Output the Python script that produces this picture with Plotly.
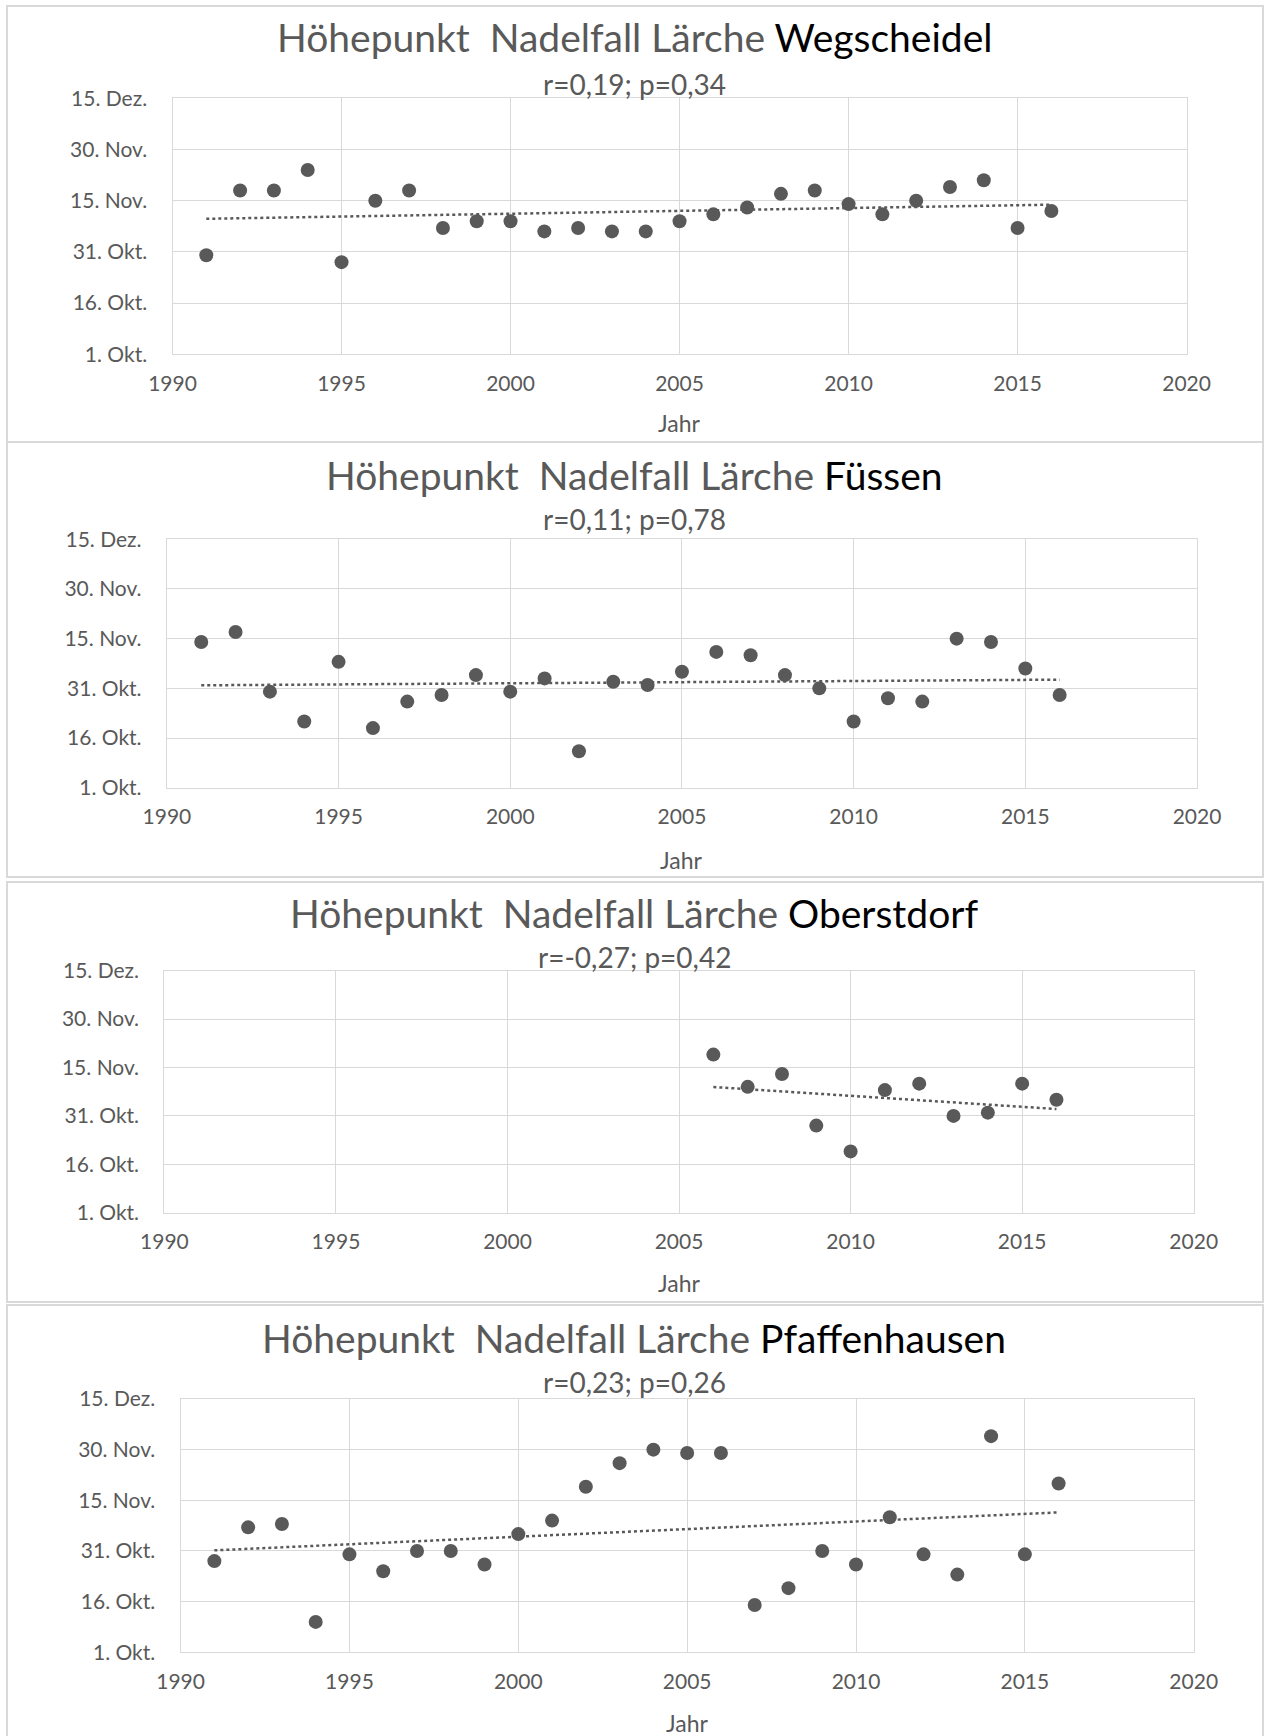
import numpy as np
import plotly.graph_objects as go

# Tage nach dem 1. Oktober (0 = 1. Okt., 15 = 16. Okt., 30 = 31. Okt., ...)
years_long = list(range(1991, 2017))
wegscheidel = [29, 48, 48, 54, 27, 45, 48, 37, 39, 39, 36, 37, 36,
               36, 39, 41, 43, 47, 48, 44, 41, 45, 49, 51, 37, 42]
fuessen = [44, 47, 29, 20, 38, 18, 26, 28, 34, 29, 33, 11, 32,
           31, 35, 41, 40, 34, 30, 20, 27, 26, 45, 44, 36, 28]
years_oberstdorf = list(range(2006, 2017))
oberstdorf = [49, 39, 43, 27, 19, 38, 40, 30, 31, 40, 35]
pfaffenhausen = [27, 37, 38, 9, 29, 24, 30, 30, 26, 35, 39, 49, 56,
                 60, 59, 59, 14, 19, 30, 26, 40, 29, 23, 64, 29, 50]

stations = ["Wegscheidel", "Füssen", "Oberstdorf", "Pfaffenhausen"]
stats = ["r=0,19; p=0,34", "r=0,11; p=0,78", "r=-0,27; p=0,42", "r=0,23; p=0,26"]
series = [(years_long, wegscheidel), (years_long, fuessen),
          (years_oberstdorf, oberstdorf), (years_long, pfaffenhausen)]

y_tickvals = [0, 15, 30, 45, 60, 75]
y_ticktext = ["1. Okt.", "16. Okt.", "31. Okt.", "15. Nov.", "30. Nov.", "15. Dez."]
x_tickvals = [1990, 1995, 2000, 2005, 2010, 2015, 2020]

W, H = 1264, 1736
# plot areas in pixels: left, right, top, bottom
plot_boxes = [(172.5, 1186.6, 98.3, 354.3),
              (166.9, 1197.0, 539.3, 787.7),
              (164.4, 1193.7, 970.7, 1212.7),
              (180.6, 1193.7, 1399.0, 1652.3)]
title_y = [36.7, 475, 913, 1338]
sub_y = [84, 519, 957, 1382]
jahr_y = [423, 860, 1283, 1723]
panel_frames = [(6, 442), (442, 877), (882, 1302), (1305, 1760)]

FONT = "Lato"
GRAY = "#595959"
GRID = "#d9d9d9"

fig = go.Figure()
annotations = []
shapes = []

for i, ((yrs, vals), name) in enumerate(zip(series, stations)):
    n = "" if i == 0 else str(i + 1)
    xa, ya = "x" + n, "y" + n
    left, right, top, bottom = plot_boxes[i]

    fig.add_trace(go.Scatter(x=yrs, y=vals, mode="markers", xaxis=xa, yaxis=ya,
                             marker=dict(size=14, color=GRAY), showlegend=False))
    k, d = np.polyfit(yrs, vals, 1)
    ends = [yrs[0], yrs[-1]]
    fig.add_trace(go.Scatter(x=ends, y=[k * e + d for e in ends], mode="lines",
                             xaxis=xa, yaxis=ya, showlegend=False,
                             line=dict(color=GRAY, width=2.5, dash="dot")))

    axis_common = dict(showgrid=True, gridcolor=GRID, gridwidth=1.3, zeroline=False,
                       showline=True, linecolor=GRID, linewidth=1.3, mirror=True,
                       tickfont=dict(family=FONT, size=21, color=GRAY),
                       ticks="", fixedrange=True, automargin=False)
    fig.update_layout({
        "xaxis" + n: dict(axis_common, domain=[left / W, right / W], range=[1990, 2020],
                          tickvals=x_tickvals, anchor=ya, ticklabelstandoff=10),
        "yaxis" + n: dict(axis_common, domain=[1 - bottom / H, 1 - top / H], range=[0, 75],
                          tickvals=y_tickvals, ticktext=y_ticktext, anchor=xa,
                          ticklabelstandoff=20),
    })

    annotations.append(dict(
        x=634 / W, y=1 - title_y[i] / H, xref="paper", yref="paper", showarrow=False,
        text="Höhepunkt  Nadelfall Lärche <span style='color:#000000'>" + name + "</span>",
        font=dict(family=FONT, size=39, color=GRAY), xanchor="center", yanchor="middle"))
    annotations.append(dict(
        x=634 / W, y=1 - sub_y[i] / H, xref="paper", yref="paper", showarrow=False,
        text=stats[i], font=dict(family=FONT, size=28, color=GRAY),
        xanchor="center", yanchor="middle"))
    annotations.append(dict(
        x=(left + right) / 2 / W, y=1 - jahr_y[i] / H, xref="paper", yref="paper",
        showarrow=False, text="Jahr", font=dict(family=FONT, size=23, color=GRAY),
        xanchor="center", yanchor="middle"))

    y0, y1 = panel_frames[i]
    shapes.append(dict(type="rect", xref="paper", yref="paper",
                       x0=7 / W, x1=1263 / W, y0=1 - y1 / H, y1=1 - y0 / H,
                       line=dict(color=GRID, width=2), fillcolor="rgba(0,0,0,0)"))

fig.update_layout(width=W, height=H, margin=dict(l=0, r=0, t=0, b=0, pad=0),
                  template="none",
                  paper_bgcolor="white", plot_bgcolor="white",
                  annotations=annotations, shapes=shapes,
                  font=dict(family=FONT, color=GRAY))

# the page body has a default 8px margin; drop it so the figure sits at 0,0
fig.write_html("out.html", config={"displayModeBar": False},
               post_script="document.body.style.margin='0';")
